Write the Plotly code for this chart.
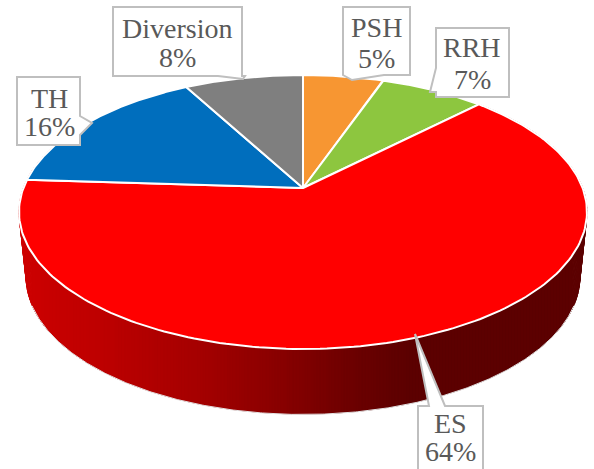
import numpy as np
import plotly.graph_objects as go

categories = ["PSH", "RRH", "ES", "TH", "Diversion"]
values = [5.4, 7.1, 63.5, 16.0, 8.0]
pct_labels = ["5%", "7%", "64%", "16%", "8%"]
colors = ["#F79632", "#8DC63F", "#FF0000", "#006EBD", "#7F7F7F"]

# view geometry of the tilted disc, in picture units
CX, CY = 303.0, 188.0
A, B, K = 279.6, 132.8, 0.175
DEPTH, BASE_SCALE = 65.0, 0.975
WALL_STOPS_X = [20, 100, 200, 300, 350, 410, 600]
WALL_STOPS_R = [206, 190, 165, 130, 110, 92, 92]

# label boxes: left, top, right, bottom, pointer points, text x, line y's
boxes = {
    "PSH": (343, 7, 410, 75, [(384, 75), (352, 80), (343, 75)], 376, (27, 58)),
    "RRH": (436, 28, 509, 97, [(436, 68), (430, 92), (436, 92)], 472, (47, 79)),
    "ES": (418, 406, 483, 480, [(445, 406), (415, 334), (429, 406)], 450, (423, 451)),
    "TH": (17, 77, 80, 145, [(80, 116), (92, 123), (80, 135)], 49, (98, 126)),
    "Diversion": (113, 7, 242, 76, [(245, 76), (243, 79), (218, 76)], 177, (28, 57)),
}


def project(t, base=False):
    x, y = np.sin(t), np.cos(t)
    d = 1 + K * y
    u = A * x / d
    v = -B * y / d
    if base:
        return CX + BASE_SCALE * u, CY + v + DEPTH
    return CX + u, CY + v


def wall_color(x):
    r = int(np.interp(x, WALL_STOPS_X, WALL_STOPS_R))
    return f"rgb({r},0,0)"


fig = go.Figure()
total = sum(values)
edges = 2 * np.pi * np.concatenate([[0], np.cumsum(values)]) / total

# side wall of the ES slice: first the full silhouette ...
i_es = categories.index("ES")
ts = np.linspace(edges[i_es], edges[i_es + 1] + 0.5, 200)
for t0, t1 in zip(ts[:-1], ts[1:]):
    x0, y0 = project(t0)
    x1, y1 = project(t1)
    x2, y2 = project(t1, True)
    x3, y3 = project(t0, True)
    c = wall_color((x0 + x1 + x2 + x3) / 4)
    fig.add_trace(go.Scatter(x=[x0, x1, x2, x3, x0], y=[y0, y1, y2, y3, y0], mode="lines",
                             fill="toself", fillcolor=c, line=dict(color=c, width=1),
                             hoverinfo="skip", showlegend=False))

# ... then upright strips so the shading runs straight across the width
arc = np.linspace(np.pi * 0.5, np.pi * 1.5, 600)
ax, ay = project(arc)
qx, qy = project(arc, True)
order_a, order_q = np.argsort(ax), np.argsort(qx)
xs = np.arange(qx.min() + 6, qx.max() - 6, 3.0)
for xa, xb in zip(xs[:-1], xs[1:]):
    grid = np.array([xa, xb])
    top = np.interp(grid, ax[order_a], ay[order_a]) - 2
    bot = np.interp(grid, qx[order_q], qy[order_q])
    c = wall_color((xa + xb) / 2)
    fig.add_trace(go.Scatter(x=[xa, xb, xb, xa, xa], y=[top[0], top[1], bot[1], bot[0], top[0]],
                             mode="lines", fill="toself", fillcolor=c,
                             line=dict(color=c, width=0.5), hoverinfo="skip", showlegend=False))

# outline of the wall's lower edge, front part only
front = (arc > np.pi * 0.62) & (arc < np.pi * 1.38)
fig.add_trace(go.Scatter(x=qx[front], y=qy[front] + 0.5, mode="lines",
                         line=dict(color="#E4E4E4", width=1),
                         hoverinfo="skip", showlegend=False))

# top face slices
for i, name in enumerate(categories):
    t = np.linspace(edges[i], edges[i + 1], 200)
    x, y = project(t)
    fig.add_trace(go.Scatter(x=np.r_[CX, x, CX], y=np.r_[CY, y, CY], mode="lines",
                             fill="toself", fillcolor=colors[i],
                             line=dict(color="white", width=2), name=name,
                             hoverinfo="skip", showlegend=False))

shapes = []
annotations = []
for i, name in enumerate(categories):
    l, t, r, b, ptr, tx, (y1, y2) = boxes[name]
    if name in ("PSH", "Diversion"):
        pts = [(l, t), (r, t), (r, b)] + ptr + [(l, b)]
    elif name == "RRH":
        pts = [(l, t), (r, t), (r, b), (l, b), ptr[2], ptr[1], ptr[0]]
    elif name == "ES":
        pts = [(l, t), ptr[2], ptr[1], ptr[0], (r, t), (r, b), (l, b)]
    else:
        pts = [(l, t), (r, t)] + ptr + [(r, b), (l, b)]
    path = "M " + " L ".join(f"{px},{py}" for px, py in pts) + " Z"
    shapes.append(dict(type="path", path=path, xref="x", yref="y", fillcolor="white",
                       line=dict(color="#BFBFBF", width=2), layer="above"))
    for text, yy in ((name, y1), (pct_labels[i], y2)):
        annotations.append(dict(x=tx, y=yy, text=text, xref="x", yref="y", showarrow=False,
                                xanchor="center", yanchor="middle",
                                font=dict(family="Liberation Serif", size=28, color="#595959")))

fig.update_layout(
    width=594, height=469, margin=dict(l=0, r=0, t=0, b=0),
    paper_bgcolor="white", plot_bgcolor="white", showlegend=False,
    xaxis=dict(range=[0, 594], visible=False, fixedrange=True),
    yaxis=dict(range=[469, 0], visible=False, fixedrange=True),
    shapes=shapes, annotations=annotations,
)
fig.write_html("out.html", config={"displayModeBar": False},
               post_script="document.body.style.margin='0';document.documentElement.style.overflow='hidden';")
